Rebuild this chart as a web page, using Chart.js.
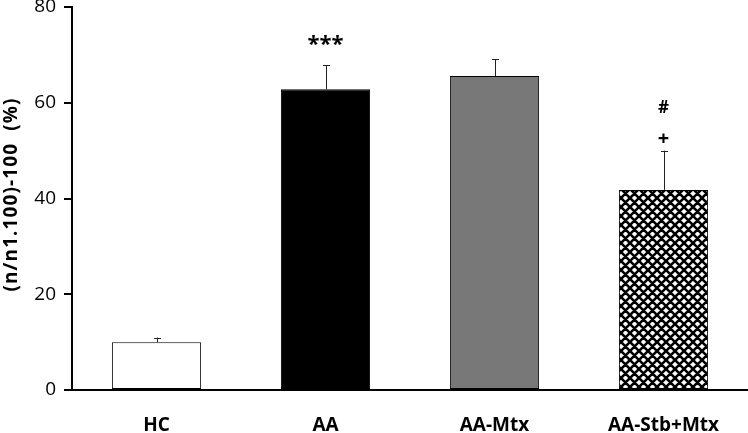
<!DOCTYPE html>
<html><head><meta charset="utf-8">
<script src="https://cdn.jsdelivr.net/npm/chart.js@4"></script>
<style>html,body{margin:0;padding:0;background:#fff}#wrap{width:748px;height:433px}</style>
</head><body><div id="wrap"><canvas id="c" width="748" height="433"></canvas></div>
<script>
const categories = ["HC", "AA", "AA-Mtx", "AA-Stb+Mtx"];
const values = [10.0, 62.8, 65.6, 41.8];
const errors = [0.95, 5.0, 3.5, 8.2];
const markers = ["", "***", "", "+"];
const markers2 = ["", "", "", "#"];
const yTicks = [0, 20, 40, 60, 80];
const yTitle = "(n/n1.100)-100  (%)";

function hatch() {
  const s = 9;
  const c = document.createElement('canvas');
  c.width = s; c.height = s;
  const g = c.getContext('2d');
  g.fillStyle = '#fff'; g.fillRect(0, 0, s, s);
  g.strokeStyle = '#000'; g.lineWidth = 2.6;
  g.beginPath();
  for (let k = -1; k <= 1; k++) {
    g.moveTo(k * s - 2, -2); g.lineTo(k * s + s + 2, s + 2);
    g.moveTo(k * s - 2, s + 2); g.lineTo(k * s + s + 2, -2);
  }
  g.stroke();
  return document.getElementById('c').getContext('2d').createPattern(c, 'repeat');
}

const extras = {
  id: 'extras',
  afterDatasetsDraw(chart) {
    const ctx = chart.ctx;
    const meta = chart.getDatasetMeta(0);
    const y = chart.scales.y;
    ctx.save();
    meta.data.forEach((bar, i) => {
      const x = bar.x;
      const yTop = y.getPixelForValue(values[i]);
      const yErr = y.getPixelForValue(values[i] + errors[i]);
      ctx.strokeStyle = '#222';
      ctx.lineWidth = 1;
      ctx.beginPath();
      ctx.moveTo(Math.round(x) + 0.5, yTop);
      ctx.lineTo(Math.round(x) + 0.5, yErr);
      ctx.moveTo(Math.round(x) - 3, Math.round(yErr) + 0.5);
      ctx.lineTo(Math.round(x) + 4, Math.round(yErr) + 0.5);
      ctx.stroke();
      ctx.fillStyle = '#000';
      ctx.textAlign = 'center';
      ctx.textBaseline = 'middle';
      if (markers[i]) {
        if (markers[i] === '***') {
          ctx.font = 'bold 22px "Open Sans", sans-serif';
          ctx.fillText(markers[i], x, yErr - 21);
        } else {
          ctx.font = 'bold 20px "Open Sans", sans-serif';
          ctx.fillText(markers[i], x, yErr - 11);
        }
      }
      if (markers2[i]) {
        ctx.font = 'bold 17px "Open Sans", sans-serif';
        ctx.fillText(markers2[i], x, yErr - 42);
      }
    });
    // y-axis title
    const area = chart.chartArea;
    ctx.translate(12, (area.top + area.bottom) / 2 - 4);
    ctx.rotate(-Math.PI / 2);
    ctx.font = 'bold 19px "Open Sans", sans-serif';
    try { ctx.letterSpacing = '1.1px'; } catch (e) {}
    ctx.textAlign = 'center';
    ctx.textBaseline = 'middle';
    ctx.fillStyle = '#000';
    ctx.fillText(yTitle, 0, 0);
    ctx.restore();
  }
};

new Chart(document.getElementById('c'), {
  type: 'bar',
  data: {
    labels: categories,
    datasets: [{
      data: values,
      backgroundColor: ['#ffffff', '#000000', '#787878', hatch()],
      borderColor: '#000',
      borderWidth: 1,
      borderSkipped: false,
      barPercentage: 0.528,
      categoryPercentage: 1.0
    }]
  },
  options: {
    responsive: false,
    animation: false,
    events: [],
    layout: { padding: { top: 7, right: 0, left: 0, bottom: 0 } },
    plugins: { legend: { display: false }, tooltip: { enabled: false } },
    scales: {
      x: {
        grid: { display: false },
        border: { display: true, color: '#000', width: 2 },
        ticks: { color: '#000', font: { family: '"Open Sans", sans-serif', size: 19, weight: 'bold' }, padding: 16 },
        afterFit(s) { s.height = 43; s.paddingLeft = 0; s.paddingRight = 0; }
      },
      y: {
        min: 0, max: 80,
        afterBuildTicks(s) { s.ticks = yTicks.map(v => ({ value: v })); },
        grid: { drawOnChartArea: false, drawTicks: true, tickLength: 8, color: '#000', lineWidth: 2 },
        border: { display: true, color: '#000', width: 2 },
        ticks: { color: '#000', font: { family: '"Open Sans", sans-serif', size: 19 }, padding: 8 },
        afterFit(s) { s.width = 72; s.paddingTop = 0; s.paddingBottom = 0; }
      }
    }
  },
  plugins: [extras]
});
</script>
</body></html>
